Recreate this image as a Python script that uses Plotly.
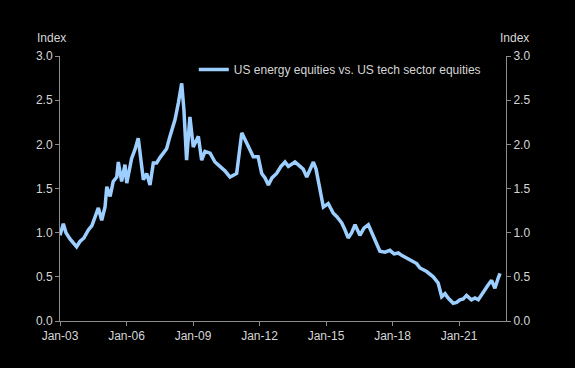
import plotly.graph_objects as go
import pandas as pd

# decimal years and index values
years = [2003.00, 2003.15, 2003.27, 2003.45, 2003.75, 2003.90, 2004.08, 2004.28, 2004.44, 2004.58,
         2004.73, 2004.88, 2005.03, 2005.11, 2005.26, 2005.40, 2005.56, 2005.63, 2005.78, 2005.93,
         2006.01, 2006.23, 2006.38, 2006.53, 2006.65, 2006.76, 2006.91, 2007.06, 2007.21, 2007.36,
         2007.51, 2007.66, 2007.81, 2007.96, 2008.19, 2008.34, 2008.49, 2008.59, 2008.71, 2008.86,
         2009.01, 2009.24, 2009.39, 2009.54, 2009.77, 2009.99, 2010.22, 2010.44, 2010.67, 2010.97,
         2011.20, 2011.42, 2011.57, 2011.72, 2011.94, 2012.10, 2012.25, 2012.40, 2012.56, 2012.77,
         2012.97, 2013.15, 2013.30, 2013.45, 2013.60, 2013.83, 2013.97, 2014.13, 2014.28, 2014.43,
         2014.55, 2014.65, 2014.77, 2014.88, 2015.10, 2015.33, 2015.49, 2015.71, 2015.86, 2016.00,
         2016.16, 2016.31, 2016.53, 2016.71, 2016.91, 2017.13, 2017.29, 2017.43, 2017.66, 2017.88,
         2018.07, 2018.26, 2018.43, 2018.64, 2018.86, 2019.09, 2019.24, 2019.54, 2019.84, 2019.99,
         2020.06, 2020.22, 2020.37, 2020.51, 2020.74, 2020.89, 2021.04, 2021.19, 2021.34, 2021.56,
         2021.72, 2021.87, 2022.09, 2022.32, 2022.47, 2022.62, 2022.76, 2022.85]
values = [0.97, 1.10, 1.00, 0.93, 0.84, 0.90, 0.94, 1.03, 1.08, 1.18,
          1.28, 1.14, 1.29, 1.52, 1.41, 1.58, 1.63, 1.80, 1.58, 1.77,
          1.56, 1.84, 1.94, 2.07, 1.82, 1.60, 1.67, 1.54, 1.79, 1.79,
          1.85, 1.90, 1.95, 2.09, 2.28, 2.47, 2.69, 2.39, 1.82, 2.31,
          1.97, 2.09, 1.82, 1.92, 1.90, 1.80, 1.75, 1.70, 1.63, 1.67,
          2.13, 2.01, 1.95, 1.86, 1.86, 1.67, 1.62, 1.54, 1.62, 1.67,
          1.75, 1.80, 1.75, 1.78, 1.80, 1.75, 1.72, 1.63, 1.72, 1.80,
          1.72, 1.60, 1.45, 1.29, 1.33, 1.22, 1.18, 1.11, 1.03, 0.94,
          1.00, 1.09, 0.97, 1.05, 1.09, 0.955, 0.87, 0.79, 0.78, 0.80,
          0.76, 0.77, 0.74, 0.71, 0.69, 0.65, 0.60, 0.56, 0.50, 0.46,
          0.43, 0.275, 0.31, 0.26, 0.20, 0.21, 0.24, 0.25, 0.29, 0.24,
          0.26, 0.24, 0.33, 0.41, 0.46, 0.37, 0.48, 0.54]
series_name = "US energy equities vs. US tech sector equities"
y_ticks = [0.0, 0.5, 1.0, 1.5, 2.0, 2.5, 3.0]
y_tick_labels = ["0.0", "0.5", "1.0", "1.5", "2.0", "2.5", "3.0"]


def to_date(y):
    yr = int(y)
    start = pd.Timestamp(year=yr, month=1, day=1)
    end = pd.Timestamp(year=yr + 1, month=1, day=1)
    return start + (end - start) * (y - yr)


dates = [to_date(y) for y in years]

line_color = "#9ccfff"
axis_color = "#8c8c8c"
text_color = "#d6d6d6"
font = dict(family="Liberation Sans, Arial, sans-serif", size=12, color=text_color)

fig = go.Figure()
fig.add_trace(go.Scatter(x=dates, y=values, mode="lines", name=series_name,
                         line=dict(color=line_color, width=3.5)))
fig.add_trace(go.Scatter(x=[dates[0]], y=[values[0]], yaxis="y2", mode="lines",
                         showlegend=False, hoverinfo="skip",
                         line=dict(color="rgba(0,0,0,0)")))

axis_common = dict(showgrid=False, zeroline=False, showline=True, linecolor=axis_color,
                   linewidth=1, ticks="outside", ticklen=4, tickcolor=axis_color,
                   tickfont=font)

fig.update_layout(
    width=575, height=368,
    paper_bgcolor="black", plot_bgcolor="black",
    margin=dict(l=60, r=69, t=56, b=47),
    font=font,
    showlegend=True,
    legend=dict(x=0.30, y=1.004, xanchor="left", yanchor="top",
                bgcolor="rgba(0,0,0,0)", font=font),
    xaxis=dict(type="date", range=[pd.Timestamp("2003-01-01"), pd.Timestamp("2023-02-14")],
               tick0="2003-01-01", dtick="M36", tickformat="%b-%y", **axis_common),
    yaxis=dict(range=[0, 3], tickvals=y_ticks, ticktext=y_tick_labels, **axis_common),
    yaxis2=dict(range=[0, 3], tickvals=y_ticks, ticktext=y_tick_labels,
                overlaying="y", side="right", **axis_common),
    annotations=[
        dict(text="Index", xref="paper", yref="paper", x=-0.020, y=1.035,
             xanchor="center", yanchor="bottom", showarrow=False, font=font),
        dict(text="Index", xref="paper", yref="paper", x=1.019, y=1.035,
             xanchor="center", yanchor="bottom", showarrow=False, font=font),
    ],
)

fig.write_html("out.html", config={"displayModeBar": False},
               post_script="document.body.style.margin='0';document.body.style.background='black';")
